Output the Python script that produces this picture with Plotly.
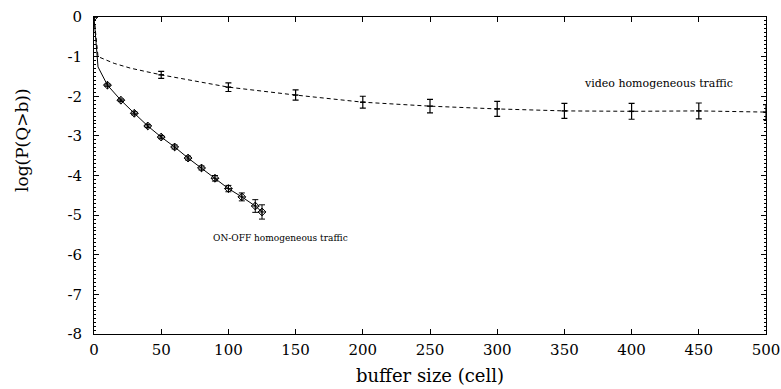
import plotly.graph_objects as go

# ON-OFF homogeneous traffic
onoff_x = [0, 2, 3, 10, 20, 30, 40, 50, 60, 70, 80, 90, 100, 110, 120, 125]
onoff_y = [0, -1.0, -1.26, -1.72, -2.10, -2.43, -2.75, -3.03, -3.28, -3.56, -3.81, -4.07, -4.33, -4.54, -4.77, -4.92]
onoff_err = [0, 0, 0, 0.03, 0.03, 0.04, 0.04, 0.04, 0.05, 0.05, 0.05, 0.07, 0.08, 0.10, 0.16, 0.18]
onoff_marked = [1, 0, 0, 1, 1, 1, 1, 1, 1, 1, 1, 1, 1, 1, 1, 1]

# video homogeneous traffic
video_x = [0, 3, 15, 27, 39, 50, 100, 150, 200, 250, 300, 350, 400, 450, 500]
video_y = [0, -1.0, -1.17, -1.29, -1.38, -1.46, -1.77, -1.97, -2.15, -2.25, -2.32, -2.37, -2.38, -2.37, -2.40]
video_err = [0, 0, 0, 0, 0, 0.09, 0.11, 0.13, 0.15, 0.17, 0.19, 0.19, 0.20, 0.20, 0.19]

x_ticks = [0, 50, 100, 150, 200, 250, 300, 350, 400, 450, 500]
y_ticks = [0, -1, -2, -3, -4, -5, -6, -7, -8]

FONT = "DejaVu Serif, serif"

fig = go.Figure()

fig.add_trace(go.Scatter(
    x=video_x, y=video_y, mode="lines",
    line=dict(color="black", width=1, dash="4px,3px"),
    showlegend=False, hoverinfo="skip"))
vx = [x for x, e in zip(video_x, video_err) if e > 0]
vy = [y for y, e in zip(video_y, video_err) if e > 0]
ve = [e for e in video_err if e > 0]
fig.add_trace(go.Scatter(
    x=vx, y=vy, mode="markers",
    marker=dict(symbol="line-ew", size=4, color="black", line=dict(color="black", width=1.5)),
    error_y=dict(type="data", array=ve, visible=True, color="black", thickness=1.2, width=3),
    showlegend=False))

fig.add_trace(go.Scatter(
    x=onoff_x, y=onoff_y, mode="lines",
    line=dict(color="black", width=1),
    showlegend=False, hoverinfo="skip"))
ox = [x for x, m in zip(onoff_x, onoff_marked) if m]
oy = [y for y, m in zip(onoff_y, onoff_marked) if m]
oe = [e for e, m in zip(onoff_err, onoff_marked) if m]
fig.add_trace(go.Scatter(
    x=ox, y=oy, mode="markers",
    marker=dict(symbol="diamond-cross-open", size=6, color="black", line=dict(color="black", width=1)),
    error_y=dict(type="data", array=oe, visible=True, color="black", thickness=1, width=3),
    showlegend=False))

fig.add_annotation(x=(658 - 94) / 672, y=(334 - 83) / 317, xref="paper", yref="paper",
                   text="video homogeneous traffic", xanchor="center", yanchor="middle",
                   showarrow=False, font=dict(family=FONT, size=11, color="black"))
fig.add_annotation(x=(280 - 94) / 672, y=(334 - 238) / 317, xref="paper", yref="paper",
                   text="ON-OFF homogeneous traffic", xanchor="center", yanchor="middle",
                   showarrow=False, font=dict(family=FONT, size=9, color="black"))
# axis titles
fig.add_annotation(x=(22 - 94) / 672, y=(334 - 140) / 317, xref="paper", yref="paper",
                   text="log(P(Q>b))", textangle=-90, xanchor="center", yanchor="middle",
                   showarrow=False, font=dict(family=FONT, size=17, color="black"))
fig.add_annotation(x=0.5, y=(334 - 375) / 317, xref="paper", yref="paper",
                   text="buffer size (cell)", xanchor="center", yanchor="middle",
                   showarrow=False, font=dict(family=FONT, size=18, color="black"))

axis_common = dict(showline=True, linecolor="black", linewidth=1, mirror="ticks",
                   ticks="inside", ticklen=5, tickcolor="black", showgrid=False, zeroline=False,
                   automargin=False,
                   tickfont=dict(family=FONT, size=15, color="black"))

fig.update_xaxes(range=[0, 500], tickvals=x_ticks, ticktext=[str(v) for v in x_ticks],
                 ticklabelstandoff=2, **axis_common)
fig.update_yaxes(range=[-8, 0], tickvals=y_ticks, ticktext=[str(v) for v in y_ticks],
                 ticklabelstandoff=8,
                 minor=dict(ticks="inside", ticklen=2, dtick=0.1, tickcolor="black", showgrid=False),
                 **axis_common)

fig.update_layout(width=781, height=389, margin=dict(l=94, r=15, t=17, b=55),
                  plot_bgcolor="white", paper_bgcolor="white",
                  font=dict(family=FONT, color="black"))

fig.write_html("out.html")
